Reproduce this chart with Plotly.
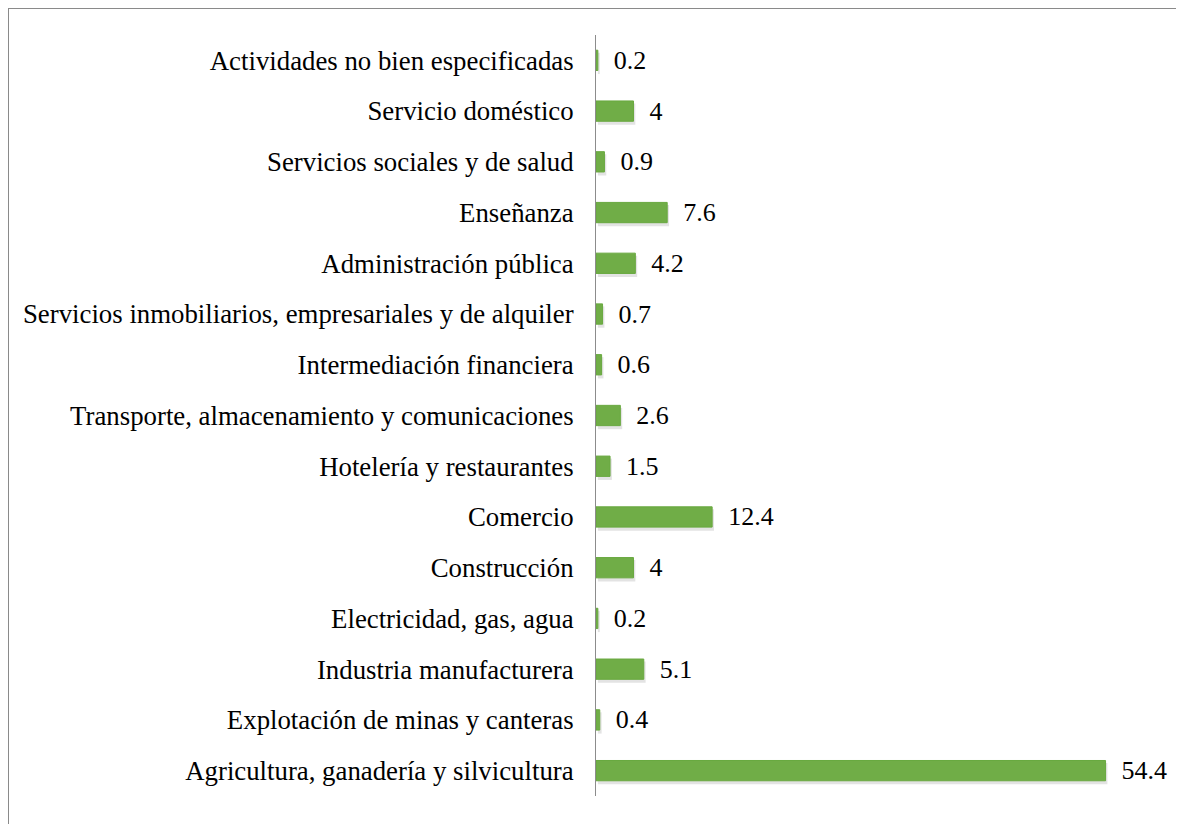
import plotly.graph_objects as go

# categories listed bottom to top
sectors = [
    "Agricultura, ganadería y silvicultura",
    "Explotación de minas y canteras",
    "Industria manufacturera",
    "Electricidad, gas, agua",
    "Construcción",
    "Comercio",
    "Hotelería y restaurantes",
    "Transporte, almacenamiento y comunicaciones",
    "Intermediación financiera",
    "Servicios inmobiliarios, empresariales y de alquiler",
    "Administración pública",
    "Enseñanza",
    "Servicios sociales y de salud",
    "Servicio doméstico",
    "Actividades no bien especificadas",
]
shares = [54.4, 0.4, 5.1, 0.2, 4, 12.4, 1.5, 2.6, 0.6, 0.7, 4.2, 7.6, 0.9, 4, 0.2]

# the page body adds an 8px margin, so the figure is laid out 8px up/left
W, H = 1184, 824
ML, MR, MT, MB = 588, 34, 27, 36
pw, ph = W - ML - MR, H - MT - MB
FONT = "Liberation Serif"

fig = go.Figure()

# soft drop shadow under each bar
fig.add_trace(go.Bar(
    y=sectors, x=shares, base=0.2, orientation="h",
    width=0.42, offset=-0.27,
    marker=dict(color="rgba(0,0,0,0.11)", line=dict(width=0)),
    hoverinfo="skip", showlegend=False,
))

fig.add_trace(go.Bar(
    y=sectors, x=shares, orientation="h",
    width=0.4, offset=-0.2,
    marker=dict(color="#70ad47", line=dict(color="#68a83f", width=1)),
    text=[f"{v:g}" for v in shares],
    textposition="outside", cliponaxis=False, constraintext="none",
    texttemplate="  %{text}",
    textfont=dict(family=FONT, size=26, color="#000000"),
    showlegend=False,
))

fig.update_layout(
    width=W, height=H,
    margin=dict(l=ML, r=MR, t=MT, b=MB),
    paper_bgcolor="white", plot_bgcolor="white",
    barmode="overlay",
    font=dict(family=FONT, size=26.8, color="#000000"),
    xaxis=dict(range=[0, 60], visible=False, showgrid=False, zeroline=False),
    yaxis=dict(
        showline=True, linecolor="#8c8c8c", linewidth=1,
        ticks="", showgrid=False, ticklabelstandoff=16,
        tickfont=dict(family=FONT, size=26.8, color="#000000"),
    ),
    shapes=[dict(
        type="rect", xref="paper", yref="paper",
        x0=(0 - ML) / pw, x1=(W + 10 - ML) / pw,
        y0=-(MB + 10) / ph, y1=1 + MT / ph,
        line=dict(color="#8a8a8a", width=2), fillcolor="rgba(0,0,0,0)",
        layer="below",
    )],
)

fig.write_html("out.html")
